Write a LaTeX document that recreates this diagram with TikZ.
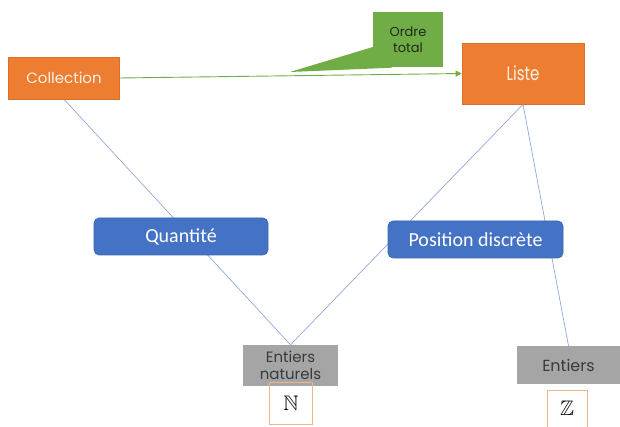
\documentclass[tikz,border=0pt]{standalone}
\usepackage{fontspec}
\usepackage{amssymb}
\usepackage{graphicx}
\setmainfont{Poppins}
\newfontfamily\calib{Carlito}
\usetikzlibrary{arrows.meta,backgrounds}
\definecolor{orng}{HTML}{ED7D31}
\definecolor{orngdk}{HTML}{D9712B}
\definecolor{cream}{HTML}{FDF1E7}
\definecolor{blu}{HTML}{4472C4}
\definecolor{bludk}{HTML}{3A64B0}
\definecolor{gry}{HTML}{A5A5A5}
\definecolor{txtgray}{HTML}{3A3A3A}
\definecolor{grn}{HTML}{70AD47}
\definecolor{calltext}{HTML}{1E2A16}
\definecolor{lightorng}{HTML}{F2B48A}
\definecolor{linkblue}{HTML}{8FAADC}
\begin{document}
\begin{tikzpicture}[x=1pt,y=-1pt,
 orangebox/.style={fill=orng, draw=orngdk, line width=0.6pt, text=cream, font=\fontsize{15}{17}\selectfont, inner sep=0pt},
 bluebox/.style={fill=blu, draw=bludk, line width=0.6pt, rounded corners=5pt, text=white, font=\calib\fontsize{20}{22}\selectfont, inner sep=0pt},
 graybox/.style={fill=gry, text=txtgray, font=\fontsize{15}{17}\selectfont, align=center, inner sep=0pt},
 setbox/.style={draw=lightorng, line width=0.8pt, inner sep=0pt, font=\fontsize{21}{21}\selectfont},
 calloutbox/.style={fill=grn, text=calltext, font=\fontsize{13}{16}\selectfont, align=center, inner sep=0pt},
 link/.style={draw=linkblue, line width=0.7pt},
 orderarrow/.style={draw=grn, line width=0.9pt, -{Triangle[length=6pt,width=6pt]}}]
\useasboundingbox (0,0) rectangle (620,427);
\node[orangebox, minimum width=111pt, minimum height=42pt] (coll) at (64,78) {Collection};
\node[orangebox, minimum width=122pt, minimum height=61pt] (liste) at (523,73.5) {\scalebox{1}[1.3]{Liste}};
\node[calloutbox, minimum width=70pt, minimum height=55pt] (callout) at (408,40) {Ordre\\total};
\coordinate (tip) at (290,72);
\fill[grn] ([yshift=-7pt]callout.west) -- (tip) -- ([xshift=-16pt]callout.south) -- cycle;
\node[bluebox, minimum width=174pt, minimum height=37pt] (quant) at (181,236.5) {Quantité};
\node[bluebox, minimum width=175pt, minimum height=37pt] (pos) at (475.5,239.5) {Position discrète};
\node[graybox, minimum width=95pt, minimum height=41pt] (nat) at (290.5,365.5) {Entiers\\naturels};
\node[setbox, minimum width=43pt, minimum height=42pt] (natset) at (291,403) {$\mathbb{N}$};
\node[graybox, font=\fontsize{16}{18}\selectfont, minimum width=103pt, minimum height=38pt] (ent) at (568.5,365) {Entiers};
\node[setbox, fill=white, minimum width=40pt, minimum height=37pt] (entset) at (567,408.5) {$\mathbb{Z}$};
\draw[orderarrow] (coll.east) -- (liste.west);
\begin{scope}[on background layer]
\fill[white] (0,0) rectangle (620,427);
\draw[link] (coll.south) -- (nat.north);
\draw[link] (nat.north) -- (liste.south);
\draw[link] (liste.south) -- (ent.north);
\end{scope}
\end{tikzpicture}
\end{document}
